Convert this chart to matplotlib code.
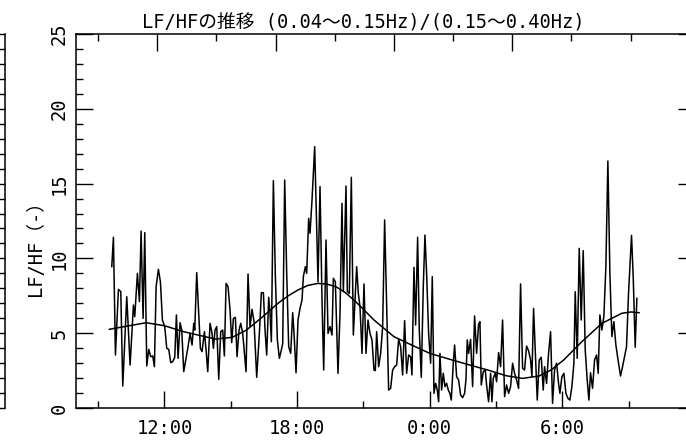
import matplotlib
matplotlib.use("Agg")
import matplotlib.pyplot as plt
from matplotlib.ticker import FixedLocator, MultipleLocator, NullFormatter

# ---- data (time in hours from 0:00 of day 1) ----
t_hours = [9.618, 9.693, 9.784, 9.919, 10.025, 10.115, 10.296, 10.447, 10.598, 10.658,
           10.778, 10.869, 10.944, 11.035, 11.110, 11.200, 11.291, 11.381, 11.472, 11.547,
           11.623, 11.728, 11.818, 11.909, 12.014, 12.105, 12.195, 12.286, 12.376, 12.467,
           12.542, 12.617, 12.708, 12.783, 12.873, 12.979, 13.069, 13.160, 13.250, 13.326,
           13.371, 13.461, 13.552, 13.627, 13.702, 13.808, 13.883, 13.959, 14.064, 14.154,
           14.215, 14.290, 14.366, 14.456, 14.546, 14.637, 14.712, 14.788, 14.878, 14.968,
           15.044, 15.119, 15.209, 15.285, 15.375, 15.451, 15.541, 15.692, 15.782, 15.873,
           15.963, 16.053, 16.174, 16.295, 16.385, 16.476, 16.551, 16.626, 16.717, 16.777,
           16.837, 16.928, 17.018, 17.109, 17.199, 17.305, 17.350, 17.440, 17.531, 17.621,
           17.711, 17.802, 17.862, 17.953, 18.043, 18.133, 18.224, 18.284, 18.375, 18.435,
           18.525, 18.586, 18.676, 18.797, 18.857, 18.947, 19.038, 19.128, 19.204, 19.309,
           19.400, 19.490, 19.580, 19.641, 19.731, 19.851, 19.942, 20.032, 20.093, 20.213,
           20.274, 20.364, 20.454, 20.545, 20.620, 20.695, 20.771, 20.846, 20.937, 21.027,
           21.118, 21.208, 21.298, 21.389, 21.479, 21.539, 21.600, 21.690, 21.781, 21.871,
           21.961, 22.142, 22.232, 22.323, 22.413, 22.504, 22.594, 22.684, 22.775, 22.865,
           22.956, 23.046, 23.137, 23.197, 23.287, 23.363, 23.453, 23.528, 23.619, 23.709,
           23.785, 23.860, 23.950, 24.041, 24.116, 24.192, 24.267, 24.342, 24.403, 24.463,
           24.538, 24.614, 24.689, 24.764, 24.840, 24.915, 24.975, 25.066, 25.126, 25.217,
           25.307, 25.397, 25.488, 25.578, 25.638, 25.699, 25.759, 25.849, 25.940, 26.030,
           26.121, 26.211, 26.271, 26.332, 26.422, 26.513, 26.573, 26.663, 26.754, 26.814,
           26.874, 26.965, 27.025, 27.116, 27.206, 27.296, 27.387, 27.477, 27.568, 27.658,
           27.749, 27.839, 27.929, 28.020, 28.110, 28.201, 28.291, 28.382, 28.472, 28.562,
           28.623, 28.698, 28.788, 28.864, 28.954, 29.045, 29.135, 29.195, 29.286, 29.376,
           29.467, 29.557, 29.647, 29.738, 29.828, 29.889, 29.979, 30.070, 30.160, 30.250,
           30.341, 30.431, 30.522, 30.582, 30.672, 30.763, 30.853, 30.944, 31.034, 31.124,
           31.200, 31.275, 31.366, 31.456, 31.547, 31.622, 31.697, 31.788, 31.878, 31.969,
           32.059, 32.150, 32.240, 32.330, 32.421, 32.541, 32.632, 32.722, 32.813, 32.903,
           32.993, 33.129, 33.205, 33.295, 33.370]

lfhf = [9.45, 11.41, 3.54, 7.93, 7.78, 1.47, 7.44, 2.87, 6.88, 6.11,
        9.00, 7.11, 11.83, 5.99, 11.72, 2.81, 3.92, 3.43, 3.48, 2.76,
        8.11, 9.27, 8.44, 5.88, 5.44, 3.99, 3.92, 3.03, 3.10, 3.39,
        6.22, 3.32, 5.70, 5.21, 2.43, 3.32, 4.10, 4.99, 4.21, 5.66,
        5.21, 9.05, 6.33, 3.99, 3.77, 5.10, 3.88, 2.43, 5.66, 4.99,
        3.99, 5.21, 5.44, 1.92, 5.10, 5.21, 3.48, 8.33, 8.11, 6.55,
        4.37, 5.99, 6.06, 3.43, 5.21, 5.66, 4.99, 2.43, 8.96, 5.44,
        6.60, 5.77, 2.05, 4.99, 7.71, 7.71, 5.21, 3.54, 7.40, 6.33,
        4.43, 15.20, 8.78, 4.55, 3.32, 3.99, 4.32, 15.24, 9.00, 4.10,
        3.65, 6.37, 4.99, 2.36, 5.88, 6.66, 7.22, 8.78, 9.45, 9.00,
        12.68, 11.68, 13.90, 17.47, 13.90, 8.44, 14.80, 7.22, 2.54, 11.23,
        4.99, 5.44, 4.88, 8.67, 8.44, 2.32, 6.33, 13.68, 7.78, 14.84,
        7.78, 7.66, 15.42, 4.88, 7.22, 9.45, 7.66, 6.77, 3.65, 8.29,
        3.65, 5.88, 4.99, 4.55, 2.54, 2.50, 5.10, 2.76, 3.65, 5.44,
        12.57, 1.20, 1.31, 2.54, 2.76, 2.87, 4.59, 4.10, 2.21, 5.84,
        2.32, 3.54, 3.43, 2.21, 9.40, 5.55, 11.41, 5.21, 2.05, 8.11,
        11.56, 9.00, 4.99, 2.99, 8.78, 0.98, 1.65, 1.20, 0.42, 3.65,
        1.20, 2.32, 1.43, 1.65, 1.20, 0.98, 0.53, 2.99, 4.21, 2.09,
        1.87, 0.87, 0.69, 0.98, 1.87, 4.55, 3.65, 4.59, 1.43, 6.15,
        3.65, 5.61, 5.77, 1.54, 2.43, 2.54, 1.54, 0.42, 2.32, 0.42,
        1.98, 2.32, 1.76, 3.70, 2.76, 5.88, 0.76, 1.54, 0.98, 1.43,
        2.99, 2.32, 1.87, 1.31, 8.29, 2.65, 2.54, 4.14, 3.83, 3.21,
        2.09, 6.66, 3.32, 0.53, 3.21, 3.39, 1.20, 2.76, 1.65, 3.65,
        5.10, 0.31, 2.54, 2.99, 1.65, 0.98, 2.09, 2.32, 0.98, 0.65,
        0.53, 1.43, 2.99, 7.78, 3.32, 10.67, 5.88, 10.52, 3.88, 1.87,
        0.53, 2.36, 1.31, 3.21, 3.54, 2.32, 6.22, 5.21, 6.11, 9.45,
        16.51, 9.00, 4.77, 5.77, 4.21, 2.99, 2.14, 2.76, 3.43, 4.10,
        7.66, 11.54, 8.78, 4.06, 7.33]

fit_hours = [9.51, 10.6, 11.17, 12.0, 12.87, 13.6, 14.30, 15.06, 15.7, 16.31, 17.14,
             17.6, 18.04, 18.5, 18.95, 19.35, 19.75, 20.15, 20.57, 21.0, 21.48, 22.38,
             23.18, 24.01, 24.92, 25.82, 26.62, 27.45, 28.20, 28.95, 29.5, 30.06,
             30.88, 31.79, 32.69, 33.1, 33.47]
fit_vals = [5.26, 5.55, 5.70, 5.50, 5.10, 4.85, 4.61, 4.72, 5.20, 5.93, 7.00,
            7.50, 7.89, 8.20, 8.33, 8.28, 8.11, 7.75, 7.22, 6.60, 5.88, 4.77,
            4.21, 3.65, 3.25, 2.87, 2.54, 2.16, 1.98, 2.14, 2.55, 3.21,
            4.43, 5.66, 6.33, 6.42, 6.37]

x_major = [12, 18, 24, 30]
x_major_labels = ["12:00", "18:00", "0:00", "6:00"]
x_minor = [9, 15, 21, 27, 33]
top_major = [12, 18, 24, 30]
top_minor = [9, 15, 21, 27, 33, 36]

title = "LF/HFの推移 (0.04～0.15Hz)/(0.15～0.40Hz)"
ylabel = "LF/HF（-）"

FONT = ["DejaVu Sans Mono", "Noto Sans CJK JP"]
plt.rcParams["font.family"] = FONT

W, H = 686, 443
fig = plt.figure(figsize=(W / 100, H / 100), dpi=100)

L, R, T, B = 76, 695, 34, 408
ax = fig.add_axes([L / W, 1 - B / H, (R - L) / W, (B - T) / H])

ax.plot(t_hours, lfhf, color="black", lw=1.1)
ax.plot(fit_hours, fit_vals, color="black", lw=1.1)

ax.set_xlim(8, 36)
ax.set_ylim(0, 25)
ax.xaxis.set_major_locator(FixedLocator(x_major))
ax.set_xticklabels(x_major_labels)
ax.xaxis.set_minor_locator(FixedLocator(x_minor))
ax.yaxis.set_major_locator(MultipleLocator(5))
ax.yaxis.set_minor_locator(MultipleLocator(1))

for sp in ax.spines.values():
    sp.set_linewidth(1.1)

ax.tick_params(which="both", direction="in", right=True, width=1.0)
ax.tick_params(which="major", length=12.5)
ax.tick_params(which="minor", length=5)
ax.tick_params(axis="x", which="major", labelsize=13.5, pad=8)
ax.tick_params(axis="y", which="major", labelsize=13.5, pad=5)
for lab in ax.get_yticklabels():
    lab.set_rotation(90)
    lab.set_va("center")
    lab.set_ha("right")

ax.set_ylabel(ylabel, fontsize=13.5)
ax.yaxis.set_label_coords((45 - L) / (R - L), (B - 243) / (B - T))

ax.set_title(title, fontsize=13.5, pad=4, x=(363 - L) / (R - L))

# top secondary time axis
axt = ax.twiny()
axt.set_xlim(7.88, 39.27)
axt.xaxis.set_major_locator(FixedLocator(top_major))
axt.xaxis.set_minor_locator(FixedLocator(top_minor))
axt.xaxis.set_major_formatter(NullFormatter())
axt.tick_params(which="both", direction="in", width=1.0)
axt.tick_params(which="major", length=12.5)
axt.tick_params(which="minor", length=5)
for sp in axt.spines.values():
    sp.set_visible(False)

# edge of neighbouring panel on the left
ax0 = fig.add_axes([-0.2, 1 - B / H, 0.2 + 5 / W, (B - T) / H])
ax0.set_ylim(0, 25)
ax0.yaxis.set_major_locator(MultipleLocator(5))
ax0.yaxis.set_minor_locator(MultipleLocator(1))
ax0.yaxis.tick_right()
ax0.set_xticks([])
ax0.yaxis.set_major_formatter(NullFormatter())
ax0.tick_params(which="both", direction="in", width=1.0)
ax0.tick_params(which="major", length=12.5)
ax0.tick_params(which="minor", length=5)
for s in ["left", "top", "bottom"]:
    ax0.spines[s].set_visible(False)
ax0.spines["right"].set_linewidth(1.1)
ax0.patch.set_alpha(0)

fig.savefig("out.png", dpi=100)
